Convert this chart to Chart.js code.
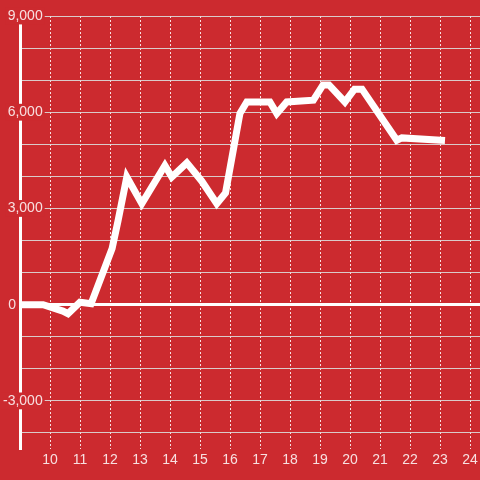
<!DOCTYPE html>
<html>
<head>
<meta charset="utf-8">
<script src="https://cdn.jsdelivr.net/npm/chart.js@4.4.1/dist/chart.umd.min.js"></script>
<style>
  html, body { margin: 0; padding: 0; background: #cc2a2f; }
  canvas { display: block; }
</style>
</head>
<body>
<canvas id="chart" width="480" height="480"></canvas>
<script>
// hour of day -> value
const hours = [9.0, 9.77, 10.43, 10.6, 11.0, 11.37, 12.07, 12.27, 12.56, 13.06,
  13.83, 14.06, 14.56, 15.06, 15.56, 15.85, 16.33, 16.56, 17.33, 17.56,
  17.89, 18.78, 19.1, 19.3, 19.83, 20.15, 20.4, 21.56, 21.73, 23.05];
const values = [0, 0, -200, -280, 75, 30, 1750, 2625, 3980, 3150,
  4340, 3980, 4420, 3850, 3150, 3480, 5960, 6320, 6320, 5960,
  6320, 6375, 6850, 6850, 6320, 6720, 6720, 5125, 5200, 5125];

// gridlines and labelled ticks
const xTickLabels = [10, 11, 12, 13, 14, 15, 16, 17, 18, 19, 20, 21, 22, 23, 24];
const yGridValues = [-4000, -3000, -2000, -1000, 0, 1000, 2000, 3000, 4000, 5000, 6000, 7000, 8000, 9000];
const yTickLabels = [-3000, 3000, 6000, 9000];
const zeroLabel = '0';

const bg = '#cc2a2f';
const labelColor = 'rgba(255,255,255,0.85)';
const font = { family: '"Liberation Sans", Arial, sans-serif', size: 14 };

const points = hours.map((h, i) => ({ x: h, y: values[i] }));

// the "0" label sits further left than the others, left of the axis line
const zeroLabelPlugin = {
  id: 'zeroLabel',
  afterDraw(chart) {
    const ctx = chart.ctx;
    const y = chart.scales.y.getPixelForValue(0);
    ctx.save();
    ctx.font = font.size + 'px ' + font.family;
    ctx.fillStyle = labelColor;
    ctx.textAlign = 'right';
    ctx.textBaseline = 'middle';
    ctx.fillText(zeroLabel, chart.chartArea.left - 4, y);
    ctx.restore();
  }
};

new Chart(document.getElementById('chart'), {
  type: 'line',
  data: {
    datasets: [{
      data: points,
      borderColor: '#ffffff',
      borderWidth: 7,
      borderCapStyle: 'square',
      pointRadius: 0,
      tension: 0,
      fill: false
    }]
  },
  plugins: [zeroLabelPlugin],
  options: {
    responsive: false,
    animation: false,
    devicePixelRatio: 1,
    layout: { padding: { top: 16, right: 0, bottom: 0, left: 0 } },
    plugins: {
      legend: { display: false },
      tooltip: { enabled: false }
    },
    scales: {
      x: {
        type: 'linear',
        min: 9,
        max: 24.333,
        border: { display: false, dash: [2, 2] },
        grid: {
          color: 'rgba(255,255,255,0.85)',
          lineWidth: 1,
          drawTicks: false
        },
        ticks: {
          stepSize: 1,
          maxTicksLimit: 30,
          includeBounds: false,
          autoSkip: false,
          maxRotation: 0,
          padding: 3,
          color: labelColor,
          font: font,
          callback: v => xTickLabels.includes(v) ? String(v) : ''
        },
        afterFit: s => { s.height = 31; s.paddingLeft = 0; s.paddingRight = 0; }
      },
      y: {
        min: -4500,
        max: 9000,
        border: { display: true, color: '#ffffff', width: 3 },
        grid: {
          drawTicks: false,
          color: ctx => ctx.tick && ctx.tick.value === 0 ? '#ffffff' : 'rgba(220,220,220,0.9)',
          lineWidth: ctx => ctx.tick && ctx.tick.value === 0 ? 3 : 1
        },
        afterBuildTicks: s => { s.ticks = yGridValues.map(v => ({ value: v })); },
        ticks: {
          autoSkip: false,
          mirror: true,
          crossAlign: 'far',
          padding: -17,
          color: labelColor,
          font: font,
          showLabelBackdrop: ctx => yTickLabels.includes(ctx.tick.value),
          backdropColor: bg,
          backdropPadding: { x: 2, y: 0 },
          callback: v => yTickLabels.includes(v) ? v.toLocaleString('en-US') : ''
        },
        afterFit: s => { s.width = 20; s.paddingTop = 0; s.paddingBottom = 0; }
      }
    }
  }
});
</script>
</body>
</html>
